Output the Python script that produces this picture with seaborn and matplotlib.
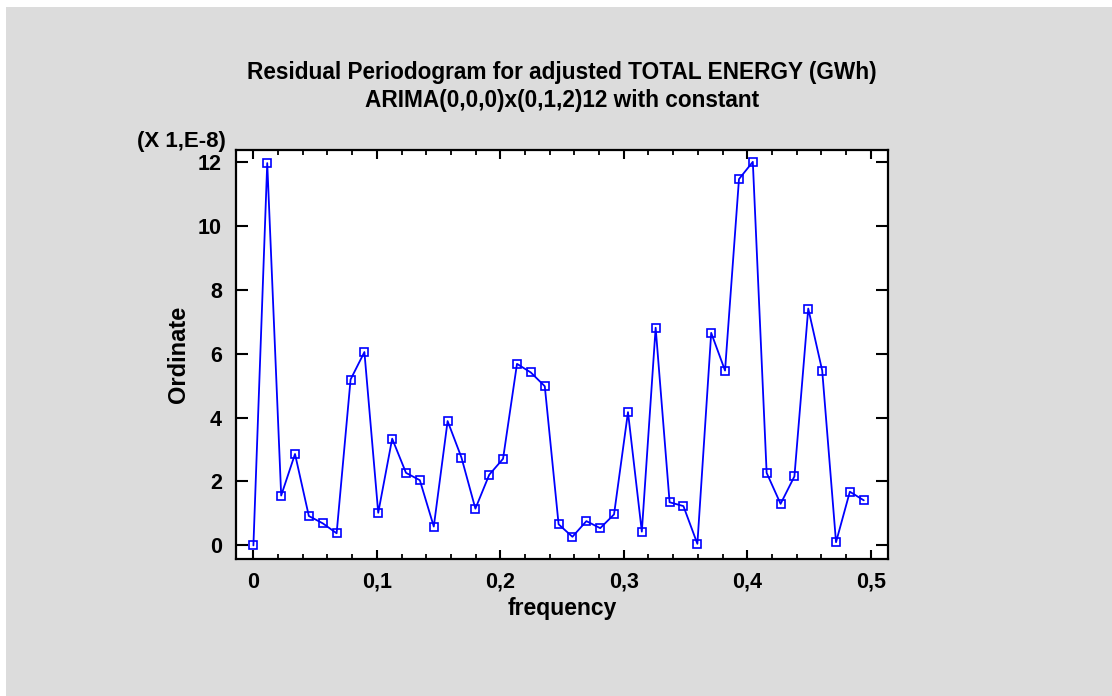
import matplotlib
matplotlib.use("Agg")
import matplotlib.pyplot as plt
from matplotlib.patches import Rectangle
from matplotlib.ticker import FuncFormatter, MultipleLocator
import seaborn as sns
import pandas as pd

# ---- data (ordinate in units of 1E-8) ----
frequency = [0.0000, 0.0112, 0.0225, 0.0337, 0.0449, 0.0562, 0.0674, 0.0787,
             0.0899, 0.1011, 0.1124, 0.1236, 0.1348, 0.1461, 0.1573, 0.1685,
             0.1798, 0.1910, 0.2022, 0.2135, 0.2247, 0.2360, 0.2472, 0.2584,
             0.2697, 0.2809, 0.2921, 0.3034, 0.3146, 0.3258, 0.3371, 0.3483,
             0.3596, 0.3708, 0.3820, 0.3933, 0.4045, 0.4157, 0.4270, 0.4382,
             0.4494, 0.4607, 0.4719, 0.4831, 0.4944]
ordinate = [0.00, 11.96, 1.56, 2.86, 0.92, 0.69, 0.38, 5.19,
            6.05, 1.02, 3.34, 2.27, 2.04, 0.59, 3.89, 2.75,
            1.15, 2.21, 2.71, 5.68, 5.41, 4.98, 0.66, 0.27,
            0.76, 0.54, 0.97, 4.17, 0.43, 6.81, 1.35, 1.23,
            0.05, 6.65, 5.47, 11.46, 12.00, 2.27, 1.30, 2.16,
            7.41, 5.47, 0.10, 1.68, 1.41]
x_ticks = [0.0, 0.1, 0.2, 0.3, 0.4, 0.5]
y_ticks = [0, 2, 4, 6, 8, 10, 12]
title_lines = ["Residual Periodogram for adjusted TOTAL ENERGY (GWh)",
               "ARIMA(0,0,0)x(0,1,2)12 with constant"]
x_label = "frequency"
y_label = "Ordinate"
scale_note = "(X 1,E-8)"

df = pd.DataFrame({"frequency": frequency, "Ordinate": ordinate})

sns.set_theme(style="white")
plt.rcParams["font.family"] = ["Liberation Sans", "DejaVu Sans"]
plt.rcParams["font.weight"] = "bold"
plt.rcParams["text.color"] = "black"
plt.rcParams["axes.labelcolor"] = "black"
plt.rcParams["xtick.color"] = "black"
plt.rcParams["ytick.color"] = "black"

W, H = 1112, 696
fig = plt.figure(figsize=(W / 100, H / 100), dpi=100, facecolor="white")
fig.patches.append(Rectangle((6 / W, 0), 1 - 6 / W, 1 - 7 / H,
                             transform=fig.transFigure, facecolor="#dcdcdc",
                             edgecolor="none", zorder=-10))

L, R, T, B = 236, 888, 150, 559
ax = fig.add_axes([L / W, 1 - B / H, (R - L) / W, (B - T) / H])
ax.set_facecolor("white")

sns.lineplot(data=df, x="frequency", y="Ordinate", ax=ax, color="#0000ff",
             linewidth=1.3, marker="s", markersize=6.3,
             markerfacecolor="none", markeredgecolor="#0000ff",
             markeredgewidth=1.2)

ax.set_xlim(-0.0141, 0.514)
ax.set_ylim(-0.425, 12.37)
ax.set_xticks(x_ticks)
ax.set_yticks(y_ticks)
ax.xaxis.set_minor_locator(MultipleLocator(0.02))
fmt = FuncFormatter(lambda v, p: ("%g" % round(v, 3)).replace(".", ","))
ax.xaxis.set_major_formatter(fmt)
ax.yaxis.set_major_formatter(fmt)

ax.tick_params(axis="x", which="major", direction="in", length=6.5, width=1.5,
               top=True, bottom=True, labelsize=15.5, pad=9, color="black",
               labelcolor="black")
ax.tick_params(axis="x", which="minor", direction="in", length=3.5, width=1.3,
               top=True, bottom=True, color="black")
ax.tick_params(axis="y", which="major", direction="in", length=8.5, width=1.5,
               left=True, right=True, labelsize=15.5, pad=10, color="black",
               labelcolor="black")
for lab in ax.get_xticklabels() + ax.get_yticklabels():
    lab.set_fontweight("bold")

for s in ax.spines.values():
    s.set_visible(True)
    s.set_color("black")
    s.set_linewidth(1.6)

ax.set_xlabel(x_label, fontsize=16.5, fontweight="bold", va="center",
              color="black")
ax.xaxis.set_label_coords(0.5, (B - 608) / (B - T))
ax.set_ylabel(y_label, fontsize=17, fontweight="bold", va="center",
              color="black")
ax.yaxis.set_label_coords((178 - L) / (R - L), 0.5)

cx = (L + R) / 2 / W
fig.text(cx, 1 - 73 / H, title_lines[0], ha="center", va="center",
         fontsize=16.3, fontweight="bold", color="black")
fig.text(cx, 1 - 100 / H, title_lines[1], ha="center", va="center",
         fontsize=16.3, fontweight="bold", color="black")
fig.text(226 / W, 1 - 142 / H, scale_note, ha="right", va="center",
         fontsize=16, fontweight="bold", color="black")

fig.savefig("out.png", dpi=100, facecolor="white")
